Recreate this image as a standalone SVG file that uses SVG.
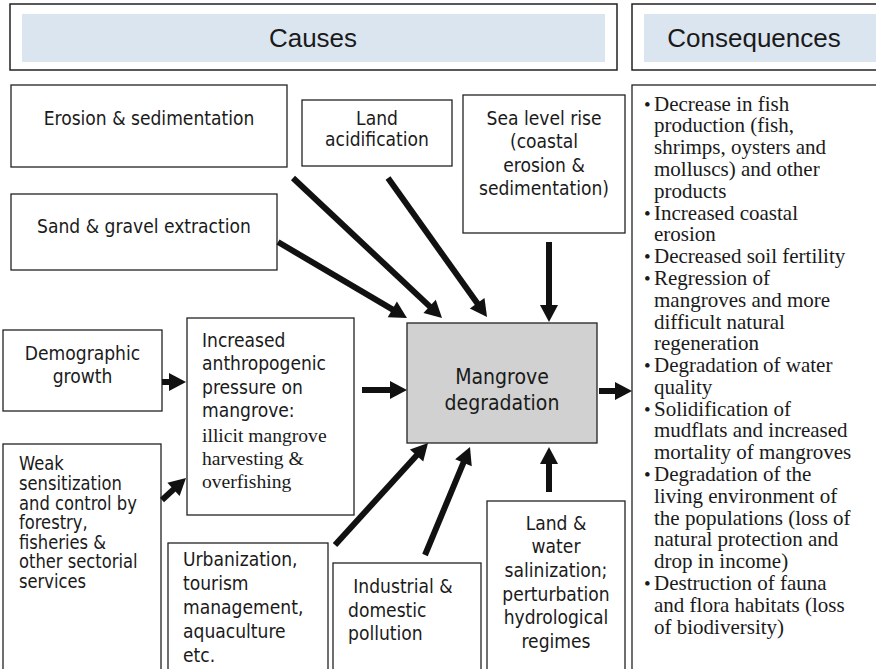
<svg xmlns="http://www.w3.org/2000/svg" width="876" height="669" viewBox="0 0 876 669">
<style>
.box{fill:#fff;stroke:#222;stroke-width:1.3}
.hdrbox{fill:#fff;stroke:#222;stroke-width:1.5}
.hdrin{fill:#dbe5f0;stroke:none}
.hdr{font-family:"Liberation Sans",Arial,sans-serif;font-size:26px;fill:#1a1a1a;text-anchor:middle}
.s{font-family:"DejaVu Sans",Verdana,sans-serif;font-size:19.5px;fill:#1a1a1a;transform-box:fill-box;transform:scaleX(0.88)}
.big{font-size:21.5px}
.tight{font-size:18.6px}
.c{text-anchor:middle;transform-origin:center}
.l{transform-origin:left center}
.serif{font-family:"Liberation Serif","Times New Roman",serif;fill:#1a1a1a}
.arr{stroke:#111;stroke-width:6;fill:none;marker-end:url(#ah)}
</style>
<defs>
<marker id="ah" markerUnits="userSpaceOnUse" markerWidth="17" markerHeight="18" refX="3" refY="9" orient="auto" overflow="visible">
<path d="M0,0 L17,9 L0,18 Z" fill="#111"/>
</marker>
</defs>
<rect width="876" height="669" fill="#fff"/>

<g id="header-causes">
<rect class="hdrbox" x="10" y="4" width="607" height="66"/>
<rect class="hdrin" x="22" y="14" width="583" height="48"/>
<text class="hdr" x="313" y="47">Causes</text>
</g>
<g id="header-consequences">
<rect class="hdrbox" x="632" y="4" width="260" height="66"/>
<rect class="hdrin" x="644" y="14" width="232" height="48"/>
<text class="hdr" x="754" y="47">Consequences</text>
</g>

<g id="erosion">
<rect class="box" x="11" y="85" width="276" height="82"/>
<text class="s c" x="149" y="125">Erosion &amp; sedimentation</text>
</g>
<g id="acidification">
<rect class="box" x="302" y="100" width="150" height="66"/>
<text class="s c" x="377" y="125">Land<tspan x="377" y="146">acidification</tspan></text>
</g>
<g id="sealevel">
<rect class="box" x="463" y="95" width="162" height="138"/>
<text class="s c" x="544" y="125">Sea level rise<tspan x="544" y="148.5">(coastal</tspan><tspan x="544" y="172">erosion &amp;</tspan><tspan x="544" y="195.5">sedimentation)</tspan></text>
</g>
<g id="sand">
<rect class="box" x="11" y="194" width="266" height="76"/>
<text class="s c" x="144" y="233">Sand &amp; gravel extraction</text>
</g>
<g id="demographic">
<rect class="box" x="3" y="330" width="159" height="81"/>
<text class="s c" x="82.5" y="360">Demographic<tspan x="82.5" y="383">growth</tspan></text>
</g>
<g id="pressure">
<rect class="box" x="187" y="318" width="167" height="197"/>
<text class="s l" x="202" y="347">Increased<tspan x="202" y="370.5">anthropogenic</tspan><tspan x="202" y="394">pressure on</tspan><tspan x="202" y="417.5">mangrove:</tspan></text>
<text class="serif" font-size="19.6" x="202" y="442">illicit mangrove<tspan x="202" y="465">harvesting &amp;</tspan><tspan x="202" y="487.5">overfishing</tspan></text>
</g>
<g id="mangrove">
<rect x="407" y="323" width="190" height="120" fill="#d0d1d0" stroke="#222" stroke-width="1.3"/>
<text class="s c big" x="502" y="384">Mangrove<tspan x="502" y="410">degradation</tspan></text>
</g>
<g id="weak">
<rect class="box" x="3" y="444" width="158" height="240"/>
<text class="s l tight" x="19" y="470">Weak<tspan x="19" y="490">sensitization</tspan><tspan x="19" y="510">and control by</tspan><tspan x="19" y="529.5">forestry,</tspan><tspan x="19" y="549">fisheries &amp;</tspan><tspan x="19" y="568.5">other sectorial</tspan><tspan x="19" y="588">services</tspan></text>
</g>
<g id="urbanization">
<rect class="box" x="168" y="543" width="160" height="140"/>
<text class="s l" x="183" y="566">Urbanization,<tspan x="183" y="590">tourism</tspan><tspan x="183" y="614">management,</tspan><tspan x="183" y="638">aquaculture</tspan><tspan x="183" y="662">etc.</tspan></text>
</g>
<g id="industrial">
<rect class="box" x="333" y="563" width="148" height="120"/>
<text class="s l" x="348" y="593"><tspan x="354">Industrial &amp;</tspan><tspan x="348" y="617">domestic</tspan><tspan x="348" y="640">pollution</tspan></text>
</g>
<g id="salinization">
<rect class="box" x="487" y="501" width="138" height="182"/>
<text class="s c" x="556" y="530">Land &amp;<tspan x="556" y="553.5">water</tspan><tspan x="556" y="577">salinization;</tspan><tspan x="556" y="601">perturbation</tspan><tspan x="556" y="624.5">hydrological</tspan><tspan x="556" y="648">regimes</tspan></text>
</g>
<g id="consequences">
<rect class="box" x="632" y="85" width="260" height="600"/>
<g class="serif" font-size="21">
<text x="644" y="110.5" font-size="19">•</text>
<text x="644" y="219.5" font-size="19">•</text>
<text x="644" y="263.1" font-size="19">•</text>
<text x="644" y="284.9" font-size="19">•</text>
<text x="644" y="372.1" font-size="19">•</text>
<text x="644" y="415.7" font-size="19">•</text>
<text x="644" y="481.1" font-size="19">•</text>
<text x="644" y="590.1" font-size="19">•</text>
<text x="654" y="110.5">Decrease in fish<tspan x="654" dy="21.8">production (fish,</tspan><tspan x="654" dy="21.8">shrimps, oysters and</tspan><tspan x="654" dy="21.8">molluscs) and other</tspan><tspan x="654" dy="21.8">products</tspan><tspan x="654" dy="21.8">Increased coastal</tspan><tspan x="654" dy="21.8">erosion</tspan><tspan x="654" dy="21.8">Decreased soil fertility</tspan><tspan x="654" dy="21.8">Regression of</tspan><tspan x="654" dy="21.8">mangroves and more</tspan><tspan x="654" dy="21.8">difficult natural</tspan><tspan x="654" dy="21.8">regeneration</tspan><tspan x="654" dy="21.8">Degradation of water</tspan><tspan x="654" dy="21.8">quality</tspan><tspan x="654" dy="21.8">Solidification of</tspan><tspan x="654" dy="21.8">mudflats and increased</tspan><tspan x="654" dy="21.8">mortality of mangroves</tspan><tspan x="654" dy="21.8">Degradation of the</tspan><tspan x="654" dy="21.8">living environment of</tspan><tspan x="654" dy="21.8">the populations (loss of</tspan><tspan x="654" dy="21.8">natural protection and</tspan><tspan x="654" dy="21.8">drop in income)</tspan><tspan x="654" dy="21.8">Destruction of fauna</tspan><tspan x="654" dy="21.8">and flora habitats (loss</tspan><tspan x="654" dy="21.8">of biodiversity)</tspan></text>
</g>
</g>

<g id="connectors">
<line class="arr" x1="293" y1="178" x2="431.8" y2="308.4"/>
<line class="arr" x1="388" y1="178" x2="478.9" y2="305.6"/>
<line class="arr" x1="278" y1="242" x2="394.9" y2="310.9"/>
<line class="arr" x1="549" y1="242" x2="549" y2="308"/>
<line class="arr" x1="162" y1="382" x2="172" y2="382"/>
<line class="arr" x1="162" y1="500" x2="175.7" y2="487.4"/>
<line class="arr" x1="362" y1="390" x2="393" y2="390"/>
<line class="arr" x1="335" y1="545" x2="418.6" y2="453.3"/>
<line class="arr" x1="425" y1="555" x2="464.6" y2="459.9"/>
<line class="arr" x1="549" y1="492" x2="549" y2="461"/>
<line class="arr" x1="599" y1="391" x2="618" y2="391"/>
</g>
</svg>
